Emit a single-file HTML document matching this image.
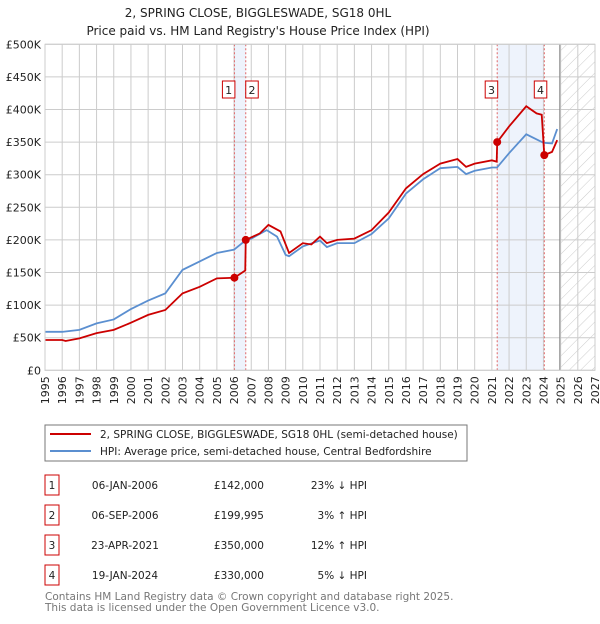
<!DOCTYPE html>
<html><head><meta charset="utf-8"><style>
body{margin:0;background:#fff;font-family:"DejaVu Sans","Liberation Sans",sans-serif;}
svg text{font-family:"DejaVu Sans","Liberation Sans",sans-serif;}
</style></head><body>
<svg id="chart" width="600" height="620" xmlns="http://www.w3.org/2000/svg">
<defs><pattern id="hatch" width="8" height="8" patternUnits="userSpaceOnUse" patternTransform="rotate(45)"><line x1="0" y1="0" x2="0" y2="8" stroke="#ccc" stroke-width="1"/></pattern></defs>
<text x="258" y="17" text-anchor="middle" font-size="12" fill="#222">2, SPRING CLOSE, BIGGLESWADE, SG18 0HL</text>
<text x="258" y="35" text-anchor="middle" font-size="12" fill="#222">Price paid vs. HM Land Registry's House Price Index (HPI)</text>
<g id="plot"></g>
<rect x="45" y="425" width="422" height="36" fill="#fff" stroke="#777"/>
<line x1="50" y1="434" x2="91" y2="434" stroke="#cc0000" stroke-width="2"/>
<text x="100" y="438" font-size="10.5" fill="#222">2, SPRING CLOSE, BIGGLESWADE, SG18 0HL (semi-detached house)</text>
<line x1="50" y1="451" x2="91" y2="451" stroke="#5b8fd0" stroke-width="2"/>
<text x="100" y="455" font-size="10.5" fill="#222">HPI: Average price, semi-detached house, Central Bedfordshire</text>
<g id="table" font-size="10.5" fill="#222"></g>
<text x="45" y="600" font-size="10.5" fill="#777">Contains HM Land Registry data © Crown copyright and database right 2025.</text>
<text x="45" y="611" font-size="10.5" fill="#777">This data is licensed under the Open Government Licence v3.0.</text>
</svg>
<script>
const hpiYears=[1995,1996,1997,1998,1999,2000,2001,2002,2003,2004,2005,2006,2006.7,2007,2007.9,2008.5,2009,2009.2,2010,2011,2011.4,2012,2013,2014,2015,2016,2017,2018,2019,2019.5,2020,2021,2021.3,2022,2023,2024,2024.5,2024.8];
const hpiValues=[59,59,62,72,78,94,107,118,154,167,180,185,200,202,215,205,177,175,190,199,189,195,195,209,233,271,293,310,312,301,306,311,311,333,362,349,348,370];
const ppYears=[1995,1996,1996.2,1997,1998,1999,2000,2001,2002,2003,2004,2005,2006.02,2006.65,2006.68,2007.5,2008,2008.7,2009.2,2010,2010.5,2011,2011.4,2012,2013,2014,2015,2016,2017,2018,2019,2019.5,2020,2021,2021.28,2021.31,2022,2023,2023.6,2023.9,2024.05,2024.5,2024.8];
const ppValues=[46.5,46.5,45,49,57,62,73,85,92.5,118,128,141,142,153,200,210,223,213,180,195,193,205,195,200,202,215,242,279,301,317,324,312,317,322,320,350,374,405,394,392,330,335,353];
const saleYears=[2006.02,2006.68,2021.31,2024.05];
const saleValues=[142,199.995,350,330];
const saleLabels=["1","2","3","4"];
const saleDates=["06-JAN-2006","06-SEP-2006","23-APR-2021","19-JAN-2024"];
const salePrices=["£142,000","£199,995","£350,000","£330,000"];
const saleDiffs=["23% ↓ HPI","3% ↑ HPI","12% ↑ HPI","5% ↓ HPI"];
const yTicks=[0,50,100,150,200,250,300,350,400,450,500];
const yTickLabels=["£0","£50K","£100K","£150K","£200K","£250K","£300K","£350K","£400K","£450K","£500K"];
const xTicks=[1995,1996,1997,1998,1999,2000,2001,2002,2003,2004,2005,2006,2007,2008,2009,2010,2011,2012,2013,2014,2015,2016,2017,2018,2019,2020,2021,2022,2023,2024,2025,2026,2027];

const NS="http://www.w3.org/2000/svg";
const L=45,R=595,T=44.3,B=370.3;
const x=y=>L+(y-1995)/(2027-1995)*(R-L);
const yv=v=>B-v/500*(B-T);
const g=document.getElementById('plot');
function mk(tag,attrs,parent){const e=document.createElementNS(NS,tag);for(const k in attrs)e.setAttribute(k,attrs[k]);(parent||g).appendChild(e);return e;}
for(const [a,b] of [[0,1],[2,3]]){
  const e=mk('rect',{x:x(saleYears[a]),y:T,width:x(saleYears[b])-x(saleYears[a]),height:B-T,fill:'#eef3fc'});
  
  
}
const hz=mk('rect',{x:x(2024.95),y:T,width:R-x(2024.95),height:B-T,fill:'url(#hatch)'});


xTicks.forEach(t=>{
  const e=mk('line',{x1:x(t),x2:x(t),y1:T,y2:B,stroke:'#ccc','stroke-width':1});
  
  
  const tx=mk('text',{transform:`translate(${x(t)+4},${B+6}) rotate(-90)`,'text-anchor':'end','font-size':11,fill:'#222'});
  tx.textContent=t;
  
  
});
yTicks.forEach((t,i)=>{
  const e=mk('line',{x1:L,x2:R,y1:yv(t),y2:yv(t),stroke:'#ccc','stroke-width':1});
  
  
  const tx=mk('text',{x:L-4,y:yv(t)+4,'text-anchor':'end','font-size':11,fill:'#222'});
  tx.textContent=yTickLabels[i];
  
  
});
const nowLine=mk('line',{x1:x(2024.95),x2:x(2024.95),y1:T,y2:B,stroke:'#888','stroke-width':1});


saleYears.forEach(s=>{
  const e=mk('line',{x1:x(s),x2:x(s),y1:T,y2:B,stroke:'#e06666','stroke-width':1,'stroke-dasharray':'2,2'});
  
  
});
const hp=mk('polyline',{points:hpiYears.map((a,i)=>x(a)+','+yv(hpiValues[i])).join(' '),fill:'none',stroke:'#5b8fd0','stroke-width':1.8});


const pp=mk('polyline',{points:ppYears.map((a,i)=>x(a)+','+yv(ppValues[i])).join(' '),fill:'none',stroke:'#cc0000','stroke-width':1.8});


saleYears.forEach((s,i)=>{
  const c=mk('circle',{cx:x(s),cy:yv(saleValues[i]),r:4,fill:'#cc0000'});
  
  
  const bx=x(s)+(i===1?0:(i===3?-10:-12));
  const r=mk('rect',{x:bx,y:81,width:12.5,height:17,fill:'#fff',stroke:'#cc0000'});
  
  
  const t=mk('text',{x:bx+6.25,y:94,'text-anchor':'middle','font-size':11,fill:'#222'});
  t.textContent=saleLabels[i];
  
  
});
const tb=document.getElementById('table');
saleLabels.forEach((lb,i)=>{
  const cy=485+i*30;
  const r=mk('rect',{x:45,y:cy-10,width:14,height:20,fill:'#fff',stroke:'#cc0000'},tb);
  
  
  const cols=[[52,'middle',lb],[125,'middle',saleDates[i]],[264,'end',salePrices[i]],[367,'end',saleDiffs[i]]];
  cols.forEach(([cx,an,tx],j)=>{
    const t=mk('text',{x:cx,y:cy+4,'text-anchor':an},tb);
    t.textContent=tx;
    
    
  });
});
const axis=mk('rect',{x:L,y:T,width:R-L,height:B-T,fill:'none',stroke:'#ccc'});


</script>
</body></html>
